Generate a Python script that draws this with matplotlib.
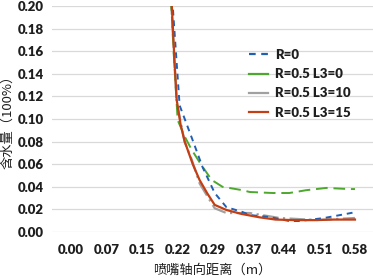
import matplotlib
matplotlib.use("Agg")
import matplotlib.pyplot as plt
from matplotlib.lines import Line2D

plt.rcParams['font.family'] = ['Lato', 'Noto Sans CJK SC', 'DejaVu Sans']

TICK_STEP = 0.0729
TICK_LABELS = ["0.00", "0.07", "0.15", "0.22", "0.29", "0.37", "0.44", "0.51", "0.58"]

# R=0
x_r0 = [0.200, 0.209, 0.223, 0.2335, 0.250, 0.270, 0.295, 0.319, 0.352, 0.367,
        0.407, 0.448, 0.469, 0.520, 0.565, 0.583]
y_r0 = [0.260, 0.199, 0.112, 0.100, 0.081, 0.0575, 0.0345, 0.022, 0.0177, 0.015,
        0.0133, 0.0097, 0.0097, 0.0124, 0.016, 0.0175]

# R=0.5 L3=0
x_l0 = [0.198, 0.206, 0.212, 0.219, 0.234, 0.248, 0.268, 0.289, 0.311, 0.352,
        0.367, 0.414, 0.448, 0.483, 0.524, 0.571, 0.583]
y_l0 = [0.260, 0.200, 0.150, 0.099, 0.084, 0.0726, 0.059, 0.046, 0.040, 0.037,
        0.0354, 0.0345, 0.0345, 0.037, 0.039, 0.038, 0.038]

# R=0.5 L3=10
x_l10 = [0.198, 0.206, 0.212, 0.217, 0.233, 0.248, 0.264, 0.285, 0.295, 0.319,
         0.367, 0.428, 0.504, 0.583]
y_l10 = [0.260, 0.200, 0.152, 0.115, 0.080, 0.064, 0.043, 0.028, 0.021, 0.0168,
         0.0168, 0.0124, 0.0106, 0.0124]

# R=0.5 L3=15
x_l15 = [0.199, 0.207, 0.212, 0.217, 0.225, 0.2335, 0.250, 0.264, 0.280, 0.295,
         0.319, 0.350, 0.387, 0.420, 0.460, 0.500, 0.540, 0.583]
y_l15 = [0.260, 0.200, 0.155, 0.117, 0.095, 0.080, 0.060, 0.046, 0.034, 0.024,
         0.0195, 0.016, 0.013, 0.011, 0.0105, 0.0105, 0.011, 0.011]

BLUE = "#1f5fb4"
GREEN = "#4ea72e"
GRAY = "#a0a0a0"
RED = "#c43e14"
TEXT = "#1e1e1e"

fig = plt.figure(figsize=(3.73, 2.78), dpi=100)
ax = fig.add_axes([52 / 373, 1 - 232 / 278, 321 / 373, 226 / 278])

ax.plot(x_l10, y_l10, color=GRAY, lw=1.6, dashes=(7, 2, 1, 2))
ax.plot(x_l0, y_l0, color=GREEN, lw=1.4, dashes=(6, 3))
ax.plot(x_r0, y_r0, color=BLUE, lw=1.4, dashes=(3, 2.5))
ax.plot(x_l15, y_l15, color=RED, lw=1.6)

ax.set_ylim(0, 0.2)
ax.set_xlim(-0.039, 0.62)
ax.set_yticks([i * 0.02 for i in range(11)])
ax.set_yticklabels([f"{i * 0.02:.2f}" for i in range(11)])
ax.set_xticks([i * TICK_STEP for i in range(len(TICK_LABELS))])
ax.set_xticklabels(TICK_LABELS)

ax.grid(axis="y", color="#d9d9d9", lw=0.9)
ax.set_axisbelow(True)
for s in ax.spines.values():
    s.set_visible(False)
ax.tick_params(length=0, labelsize=9.5)
ax.tick_params(axis="y", pad=6)
ax.tick_params(axis="x", pad=9)
for lab in ax.get_xticklabels() + ax.get_yticklabels():
    lab.set_fontweight("heavy")
    lab.set_color(TEXT)

fig.text(212 / 373, 1 - 270 / 278, "喷嘴轴向距离（m）", ha="center", va="center",
         fontsize=9.5, family=['Noto Sans CJK SC', 'DejaVu Sans'], color=TEXT,
         fontweight="medium")
fig.text(8 / 373, 1 - 119 / 278, "含水量（100%）", ha="center", va="center",
         rotation=90, fontsize=9.5, family=['Noto Sans CJK SC', 'DejaVu Sans'],
         color=TEXT, fontweight="medium")

handles = [
    Line2D([], [], color=BLUE, lw=1.6, dashes=(3, 2.5)),
    Line2D([], [], color=GREEN, lw=1.6),
    Line2D([], [], color=GRAY, lw=1.6),
    Line2D([], [], color=RED, lw=1.6),
]
labels = ["R=0", "R=0.5 L3=0", "R=0.5 L3=10", "R=0.5 L3=15"]
leg = ax.legend(handles, labels, loc="upper left", bbox_to_anchor=(0.614, 0.81),
                frameon=False, borderpad=0, borderaxespad=0,
                handlelength=1.45, handletextpad=0.5, labelspacing=0.55,
                prop={"weight": "heavy", "size": 9.5})
for t in leg.get_texts():
    t.set_color(TEXT)

fig.savefig("out.png", dpi=100)
